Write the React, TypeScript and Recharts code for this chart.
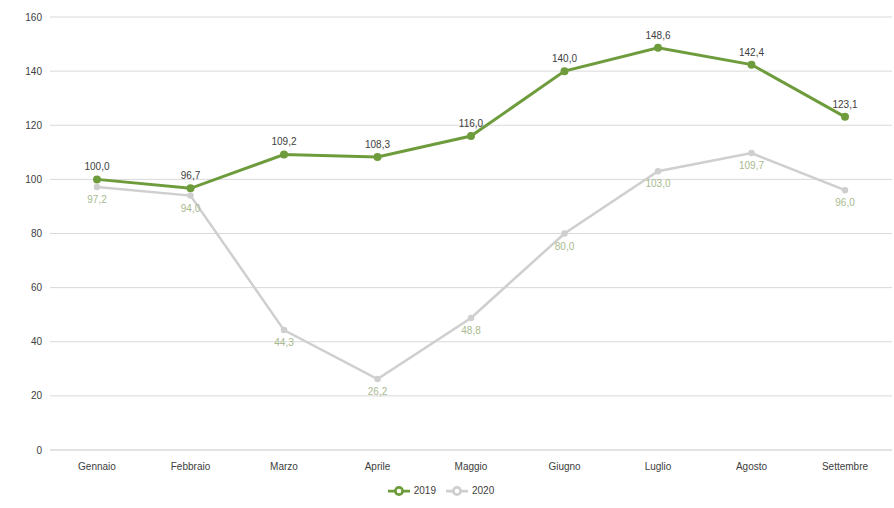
import React from "react";
import {
  LineChart,
  Line,
  XAxis,
  YAxis,
  CartesianGrid,
  Legend,
  LabelList,
} from "recharts";

const months = [
  "Gennaio",
  "Febbraio",
  "Marzo",
  "Aprile",
  "Maggio",
  "Giugno",
  "Luglio",
  "Agosto",
  "Settembre",
];
const values2019 = [100.0, 96.7, 109.2, 108.3, 116.0, 140.0, 148.6, 142.4, 123.1];
const values2020 = [97.2, 94.0, 44.3, 26.2, 48.8, 80.0, 103.0, 109.7, 96.0];
const yTicks = [0, 20, 40, 60, 80, 100, 120, 140, 160];

const data = months.map((m, i) => ({
  name: m,
  y2019: values2019[i],
  y2020: values2020[i],
}));

const FONT = "'Liberation Sans', Arial, sans-serif";
const fmt = (v: any) => Number(v).toFixed(1).replace(".", ",");

export default function App() {
  return (
    <div style={{ position: "absolute", left: 0, top: 0, background: "#fff" }}>
      <LineChart
        width={894}
        height={508}
        data={data}
        margin={{ top: 17, right: 2, left: 0, bottom: 4 }}
        style={{ fontFamily: FONT }}
      >
        <CartesianGrid vertical={false} stroke="#d9d9d9" strokeWidth={1} />
        <XAxis
          dataKey="name"
          axisLine={{ stroke: "#d9d9d9" }}
          tickLine={false}
          tick={{ fontSize: 10, fill: "#404040" }}
          tickMargin={7}
          height={30}
          padding={{ left: 47, right: 47 }}
        />
        <YAxis
          domain={[0, 160]}
          ticks={yTicks}
          axisLine={false}
          tickLine={false}
          tick={{ fontSize: 10, fill: "#404040" }}
          width={50}
        />
        <Legend
          verticalAlign="bottom"
          height={24}
          iconSize={22}
          wrapperStyle={{ fontSize: 10, color: "#404040" }}
          formatter={(v) => <span style={{ color: "#404040" }}>{v}</span>}
        />
        <Line
          name="2019"
          dataKey="y2019"
          stroke="#6e9c3c"
          strokeWidth={3}
          dot={{ r: 2.5, fill: "#6e9c3c", stroke: "#6e9c3c" }}
          legendType="line"
          isAnimationActive={false}
        >
          <LabelList
            dataKey="y2019"
            position="top"
            offset={9}
            formatter={fmt}
            style={{ fontSize: 10, fill: "#404040" }}
          />
        </Line>
        <Line
          name="2020"
          dataKey="y2020"
          stroke="#cfcfcf"
          strokeWidth={2.5}
          dot={{ r: 2, fill: "#cfcfcf", stroke: "#cfcfcf" }}
          legendType="line"
          isAnimationActive={false}
        >
          <LabelList
            dataKey="y2020"
            position="bottom"
            offset={9}
            formatter={fmt}
            style={{ fontSize: 10, fill: "#a9b98f" }}
          />
        </Line>
      </LineChart>
    </div>
  );
}
